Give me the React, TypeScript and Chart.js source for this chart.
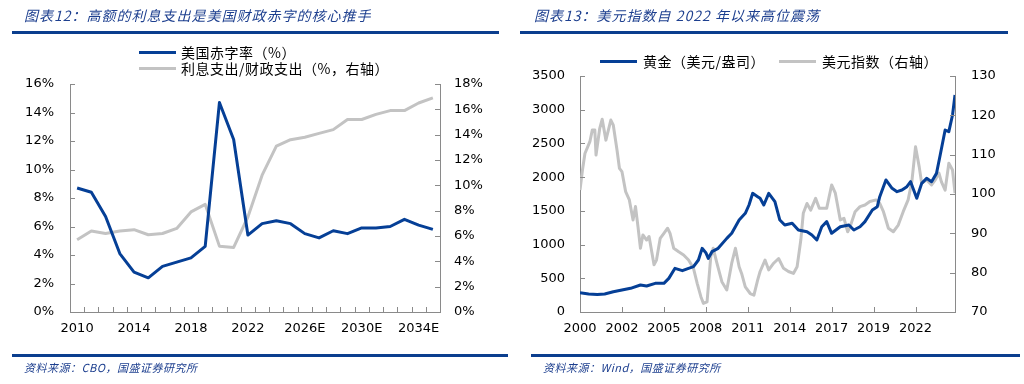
import React, { useEffect, useRef } from 'react';
import { Chart, registerables } from 'chart.js';

Chart.register(...registerables);

// ---------- Left chart data ----------
const fiscalYears = ['2010','2011','2012','2013','2014','2015','2016','2017','2018','2019','2020','2021','2022','2023','2024','2025E','2026E','2027E','2028E','2029E','2030E','2031E','2032E','2033E','2034E','2035E'];
const deficitRate = [8.7, 8.4, 6.7, 4.1, 2.8, 2.4, 3.2, 3.5, 3.8, 4.6, 14.7, 12.1, 5.4, 6.2, 6.4, 6.2, 5.5, 5.2, 5.7, 5.5, 5.9, 5.9, 6.0, 6.5, 6.1, 5.8];
const interestShare = [5.7, 6.4, 6.2, 6.4, 6.5, 6.1, 6.2, 6.6, 7.9, 8.5, 5.2, 5.1, 7.5, 10.8, 13.1, 13.6, 13.8, 14.1, 14.4, 15.2, 15.2, 15.6, 15.9, 15.9, 16.5, 16.9];
const fiscalLabelEvery = 4;

// ---------- Right chart data (x = months since 2000-01) ----------
const goldMonths = [0,7,14,20,27,34,41,49,54,61,68,72,77,83,88,92,96,99,102,104,107,112,119,123,129,134,137,140,144,146,149,153,158,162,166,172,177,184,188,192,196,200,204,211,218,222,227,231,237,241,243,248,253,257,261,265,268,273,277,281,285,289,292,296,299,302,304];
const goldPrice = [287,267,258,267,300,326,351,400,385,425,425,499,648,613,648,672,771,944,880,796,895,944,1092,1167,1364,1463,1587,1760,1710,1686,1587,1760,1636,1364,1290,1315,1216,1191,1142,1068,1265,1340,1167,1265,1290,1216,1265,1340,1513,1562,1710,1958,1834,1785,1809,1859,1933,1686,1908,1982,1933,2056,2328,2699,2674,2922,3218];
const dxyMonths = [0,2,4,8,10,12,13,16,18,21,25,27,30,32,34,37,40,43,45,47,49,51,54,56,60,62,65,68,71,73,76,80,84,88,92,95,98,100,103,106,108,111,115,119,123,126,129,131,134,138,141,144,146,150,153,157,161,165,169,173,176,179,181,184,187,191,194,198,200,204,207,211,214,217,219,223,227,231,235,240,243,246,250,254,258,262,266,269,272,275,277,281,285,288,291,293,296,299,302,304];
const dxyIndex = [101.0,106.1,110.3,113.3,116.3,116.3,109.9,116.7,119.0,113.7,118.8,117.5,111.2,106.5,105.7,100.6,98.5,93.4,96.8,91.7,86.2,89.6,88.3,89.2,82.0,83.2,88.7,90.0,91.3,90.0,86.2,85.3,84.5,83.2,81.1,77.3,73.9,72.2,72.6,84.1,86.2,82.4,77.7,75.6,82.4,86.2,81.5,79.8,76.4,74.7,74.3,78.1,80.3,83.2,80.7,82.4,83.6,81.1,80.3,79.8,81.5,88.3,95.1,97.6,95.9,98.9,96.4,96.4,96.4,102.3,100.2,93.4,93.8,90.4,91.7,95.5,96.8,97.2,98.1,98.5,97.6,95.5,91.3,90.4,92.1,95.5,98.5,103.1,112.0,106.9,102.7,103.6,102.3,103.6,105.3,103.1,101.0,107.8,106.1,100.2];
const dateTickMonths = [0,34,68,102,136,170,204,238,272];
const dateTickLabels = ['2000','2002','2005','2008','2011','2014','2017','2019','2022'];
const monthSpan = 304;

const BLUE = '#053f96';
const GRAY = '#c3c3c3';
const AXIS = '#8a8a8a';
const TITLE_BLUE = '#1d3f8f';

Chart.defaults.font.family = "'DejaVu Sans', Verdana, sans-serif";
Chart.defaults.font.size = 13;
Chart.defaults.color = '#000';

// inside tick marks (Excel style)
const insideTicks = {
  id: 'insideTicks',
  afterDraw(chart: any) {
    const ctx = chart.ctx;
    const len = 5;
    ctx.save();
    ctx.strokeStyle = AXIS;
    ctx.lineWidth = 1;
    ctx.beginPath();
    Object.values(chart.scales).forEach((s: any) => {
      if (s.axis === 'y') {
        s.ticks.forEach((t: any) => {
          const y = Math.round(s.getPixelForValue(t.value)) + 0.5;
          if (s.position === 'left') {
            ctx.moveTo(s.right, y); ctx.lineTo(s.right + len, y);
          } else {
            ctx.moveTo(s.left - len, y); ctx.lineTo(s.left, y);
          }
        });
      } else {
        const yb = s.top;
        if (s.type === 'category') {
          const n = chart.data.labels.length;
          for (let i = 0; i <= n; i++) {
            const x = Math.round(s.left + (i * s.width) / n) + 0.5;
            ctx.moveTo(x, yb); ctx.lineTo(x, yb - len);
          }
        } else {
          s.ticks.forEach((t: any) => {
            const x = Math.round(s.getPixelForValue(t.value)) + 0.5;
            ctx.moveTo(x, yb); ctx.lineTo(x, yb - len);
          });
        }
      }
    });
    ctx.stroke();
    ctx.restore();
  },
};

function LeftChart() {
  const ref = useRef<HTMLCanvasElement>(null);
  useEffect(() => {
    const chart = new Chart(ref.current!, {
      type: 'line',
      data: {
        labels: fiscalYears,
        datasets: [
          { label: '美国赤字率（%）', data: deficitRate, borderColor: BLUE, borderWidth: 3, pointRadius: 0, yAxisID: 'y', tension: 0, borderJoinStyle: 'round' },
          { label: '利息支出/财政支出（%，右轴）', data: interestShare, borderColor: GRAY, borderWidth: 3, pointRadius: 0, yAxisID: 'y1', tension: 0, borderJoinStyle: 'round' },
        ],
      },
      options: {
        animation: false,
        responsive: false,
        layout: { padding: { top: 84, bottom: 32, left: 0, right: 0 } },
        plugins: { legend: { display: false }, tooltip: { enabled: false } },
        scales: {
          x: {
            type: 'category',
            offset: true,
            grid: { display: false, drawTicks: false },
            border: { display: true, color: AXIS, width: 1 },
            ticks: { autoSkip: false, maxRotation: 0, padding: 9, callback: (_v: any, i: number) => (i % fiscalLabelEvery === 0 ? fiscalYears[i] : '') },
            afterFit: (s: any) => { s.height = 40; },
          },
          y: {
            position: 'left', min: 0, max: 16,
            grid: { display: false, drawTicks: false },
            border: { display: true, color: AXIS, width: 1 },
            ticks: { stepSize: 2, padding: 16, callback: (v: any) => v + '%' },
            afterFit: (s: any) => { s.width = 70; },
          },
          y1: {
            position: 'right', min: 0, max: 18,
            grid: { display: false, drawTicks: false },
            border: { display: true, color: AXIS, width: 1 },
            ticks: { stepSize: 2, padding: 14, callback: (v: any) => v + '%' },
            afterFit: (s: any) => { s.width = 72; },
          },
        },
      },
      plugins: [insideTicks],
    } as any);
    return () => chart.destroy();
  }, []);
  return <canvas ref={ref} width={512} height={384} style={{ position: 'absolute', left: 0, top: 0, width: 512, height: 384 }} />;
}

function RightChart() {
  const ref = useRef<HTMLCanvasElement>(null);
  useEffect(() => {
    const chart = new Chart(ref.current!, {
      type: 'line',
      data: {
        datasets: [
          { label: '黄金（美元/盎司）', data: goldMonths.map((m, i) => ({ x: m, y: goldPrice[i] })), borderColor: BLUE, borderWidth: 3, pointRadius: 0, yAxisID: 'y', tension: 0, borderJoinStyle: 'round' },
          { label: '美元指数（右轴）', data: dxyMonths.map((m, i) => ({ x: m, y: dxyIndex[i] })), borderColor: GRAY, borderWidth: 3, pointRadius: 0, yAxisID: 'y1', tension: 0, borderJoinStyle: 'round' },
        ],
      },
      options: {
        animation: false,
        responsive: false,
        layout: { padding: { top: 76, bottom: 32, left: 0, right: 0 } },
        plugins: { legend: { display: false }, tooltip: { enabled: false } },
        scales: {
          x: {
            type: 'linear', min: 0, max: monthSpan,
            grid: { display: false, drawTicks: false },
            border: { display: true, color: AXIS, width: 1 },
            afterBuildTicks: (axis: any) => { axis.ticks = dateTickMonths.map((v) => ({ value: v })); },
            ticks: { autoSkip: false, maxRotation: 0, padding: 9, callback: (v: any) => dateTickLabels[dateTickMonths.indexOf(v)] },
            afterFit: (s: any) => { s.height = 40; },
          },
          y: {
            position: 'left', min: 0, max: 3500,
            grid: { display: false, drawTicks: false },
            border: { display: true, color: AXIS, width: 1 },
            ticks: { stepSize: 500, padding: 15, callback: (v: any) => String(v) },
            afterFit: (s: any) => { s.width = 68; },
          },
          y1: {
            position: 'right', min: 70, max: 130,
            grid: { display: false, drawTicks: false },
            border: { display: true, color: AXIS, width: 1 },
            ticks: { stepSize: 10, padding: 16, callback: (v: any) => String(v) },
            afterFit: (s: any) => { s.width = 69; },
          },
        },
      },
      plugins: [insideTicks],
    } as any);
    return () => chart.destroy();
  }, []);
  return <canvas ref={ref} width={512} height={384} style={{ position: 'absolute', left: 512, top: 0, width: 512, height: 384 }} />;
}

const cjk = "'Noto Sans CJK SC', 'DejaVu Sans', sans-serif";

const titleStyle: React.CSSProperties = {
  position: 'absolute', top: 6, fontFamily: cjk, fontStyle: 'italic', fontSize: 14, lineHeight: '18px',
  color: TITLE_BLUE, letterSpacing: 1, whiteSpace: 'nowrap',
};
const sourceStyle: React.CSSProperties = {
  position: 'absolute', top: 360, fontFamily: cjk, fontStyle: 'italic', fontSize: 11, lineHeight: '14px',
  color: TITLE_BLUE, letterSpacing: 0.5, whiteSpace: 'nowrap',
};
const legendText: React.CSSProperties = {
  position: 'absolute', fontFamily: cjk, fontSize: 14, lineHeight: '16px', color: '#000', letterSpacing: 0.5, whiteSpace: 'nowrap',
};

function Rule({ x, y, w }: { x: number; y: number; w: number }) {
  return <div style={{ position: 'absolute', left: x, top: y, width: w, height: 3, background: '#0b3e8e' }} />;
}
function Swatch({ x, y, color }: { x: number; y: number; color: string }) {
  return <div style={{ position: 'absolute', left: x, top: y - 1.5, width: 37, height: 3, background: color }} />;
}

export default function App() {
  return (
    <div style={{ position: 'absolute', left: 0, top: 0, width: 1024, height: 384, background: '#fff', overflow: 'hidden' }}>
      <LeftChart />
      <RightChart />
      <div style={{ ...titleStyle, left: 24 }}>图表12：高额的利息支出是美国财政赤字的核心推手</div>
      <div style={{ ...titleStyle, left: 534 }}>图表13：美元指数自 2022 年以来高位震荡</div>
      <Rule x={12} y={31} w={487} />
      <Rule x={520} y={31} w={488} />

      <Swatch x={139} y={52} color={BLUE} />
      <div style={{ ...legendText, left: 181, top: 44 }}>美国赤字率（%）</div>
      <Swatch x={139} y={68} color={GRAY} />
      <div style={{ ...legendText, left: 181, top: 60 }}>利息支出/财政支出（%，右轴）</div>

      <Swatch x={600} y={61} color={BLUE} />
      <div style={{ ...legendText, left: 643, top: 53 }}>黄金（美元/盎司）</div>
      <Swatch x={779} y={61} color={GRAY} />
      <div style={{ ...legendText, left: 822, top: 53 }}>美元指数（右轴）</div>

      <Rule x={12} y={354} w={496} />
      <Rule x={531} y={354} w={489} />
      <div style={{ ...sourceStyle, left: 24 }}>资料来源：CBO，国盛证券研究所</div>
      <div style={{ ...sourceStyle, left: 543 }}>资料来源：Wind，国盛证券研究所</div>
    </div>
  );
}
